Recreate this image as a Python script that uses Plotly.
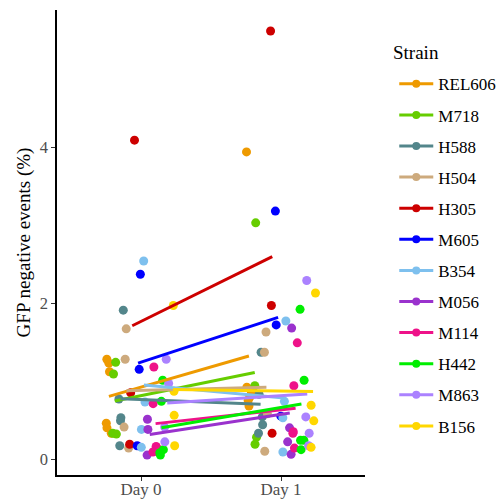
import numpy as np
import plotly.graph_objects as go

# Strains in legend / dodge order, with their colours
strains = ["REL606", "M718", "H588", "H504", "H305", "M605",
           "B354", "M056", "M114", "H442", "M863", "B156"]
colors = ["#EE9A00", "#66CD00", "#53868B", "#CDAA7D", "#CD0000", "#0000FF",
          "#7EC0EE", "#9A32CD", "#EE1289", "#00EE00", "#AB82FF", "#FFD700"]
day_labels = ["Day 0", "Day 1"]

# GFP negative events (%) per replicate
day0_values = [
    [1.28, 1.23, 1.12, 0.46, 0.40, 0.33],   # REL606
    [1.24, 1.09, 0.33, 0.32],               # M718
    [1.91, 0.77, 0.53, 0.49, 0.17],         # H588
    [1.67, 1.28, 0.41, 0.14],               # H504
    [4.09, 0.85, 0.19],                     # H305
    [2.37, 1.15, 0.17],                     # M605
    [2.54, 0.73, 0.38, 0.15],               # B354
    [0.51, 0.38, 0.05],                     # M056
    [1.18, 0.71, 0.16, 0.13, 0.09],         # M114
    [1.01, 0.74, 0.12, 0.08, 0.05],         # H442
    [1.28, 0.97, 0.41, 0.22],               # M863
    [1.97, 0.87, 0.56, 0.17],               # B156
]
day1_values = [
    [3.94, 0.92, 0.85, 0.79, 0.75, 0.68],   # REL606
    [3.03, 0.94, 0.28, 0.19],               # M718
    [1.37, 0.83, 0.54, 0.44, 0.33],         # H588
    [1.63, 1.37, 0.58, 0.10],               # H504
    [5.49, 1.97, 0.33],                     # H305
    [3.18, 1.72, 0.55],                     # M605
    [1.77, 0.74, 0.53, 0.09],               # B354
    [1.68, 0.40, 0.22, 0.06],               # M056
    [1.49, 0.94, 0.35, 0.33, 0.14],         # M114
    [1.92, 1.01, 0.24, 0.24, 0.12],         # H442
    [2.29, 0.54, 0.33, 0.17],               # M863
    [2.13, 0.69, 0.49, 0.15],               # B156
]

FONT = "Liberation Serif"
n = len(strains)
dodge_width = 0.5
jitter_width = 0.02
rng = np.random.default_rng(11)

fig = go.Figure()

# jitter-dodged points
for i, (name, col) in enumerate(zip(strains, colors)):
    center = -dodge_width / 2 + (i + 0.5) * dodge_width / n
    xs, ys = [], []
    for d, vals in enumerate([day0_values[i], day1_values[i]]):
        xs.extend(d + center + rng.uniform(-jitter_width, jitter_width, len(vals)))
        ys.extend(vals)
    fig.add_trace(go.Scatter(
        x=xs, y=ys, mode="markers",
        marker=dict(size=9, color=col, line=dict(width=0)),
        showlegend=False, hoverinfo="skip"))

# linear fit of each strain across days (connects the day means)
for i, (name, col) in enumerate(zip(strains, colors)):
    center = -dodge_width / 2 + (i + 0.5) * dodge_width / n
    x_fit = np.r_[np.zeros(len(day0_values[i])), np.ones(len(day1_values[i]))]
    y_fit = np.r_[day0_values[i], day1_values[i]]
    slope, intercept = np.polyfit(x_fit, y_fit, 1)
    xl = np.array([0.0, 1.0])
    fig.add_trace(go.Scatter(
        x=xl + center, y=intercept + slope * xl, mode="lines",
        line=dict(color=col, width=3),
        showlegend=False, hoverinfo="skip"))

# legend entries
for i, (name, col) in enumerate(zip(strains, colors)):
    fig.add_trace(go.Scatter(
        x=[None], y=[None], mode="lines+markers", name=name,
        legendgroup=name,
        line=dict(color=col, width=3), marker=dict(color=col, size=8)))

fig.update_layout(
    width=497, height=499,
    margin=dict(l=57, r=132, t=10, b=24, autoexpand=False),
    paper_bgcolor="white", plot_bgcolor="white",
    font=dict(family=FONT, color="black"),
    legend=dict(
        font=dict(size=17, family=FONT),
        x=1.095, y=0.879, xanchor="left", yanchor="top",
        tracegroupgap=6, itemwidth=34,
        bgcolor="rgba(0,0,0,0)"),
    annotations=[dict(
        text="Strain", xref="paper", yref="paper",
        x=1.084, y=0.908, xanchor="left", yanchor="middle",
        showarrow=False, font=dict(size=19, family=FONT, color="black"))],
)
fig.update_xaxes(
    range=[-0.6, 1.6], tickvals=[0, 1], ticktext=day_labels,
    showline=True, linecolor="black", linewidth=1.5,
    ticks="outside", ticklen=4, tickcolor="#333333", tickwidth=1,
    tickfont=dict(size=17, color="#4D4D4D", family=FONT),
    ticklabelstandoff=-6,
    showgrid=False, zeroline=False, automargin=False)
fig.update_yaxes(
    range=[-0.205, 5.76], tickvals=[0, 2, 4],
    title=dict(text="GFP negative events (%)", font=dict(size=19, family=FONT), standoff=4),
    showline=True, linecolor="black", linewidth=1.5,
    ticks="outside", ticklen=4, tickcolor="#333333", tickwidth=1,
    tickfont=dict(size=16.5, color="#4D4D4D", family=FONT),
    showgrid=False, zeroline=False, automargin=False)

fig.write_html("out.html")
